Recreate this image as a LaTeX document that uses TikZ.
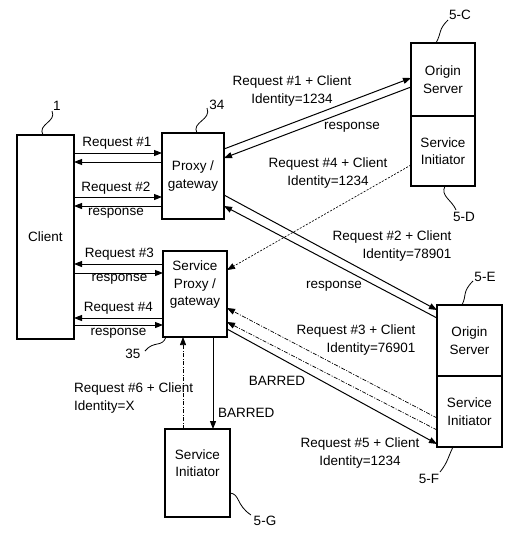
\documentclass[tikz,border=0pt]{standalone}
\usepackage{fontspec}
\setmainfont{Liberation Sans}
\usetikzlibrary{arrows.meta}
\newcommand\figfont{\fontsize{13.5}{17.5}\selectfont}
\begin{document}
\begin{tikzpicture}[x=1pt,y=-1pt,
  every node/.style={font=\figfont},
  box/.style={draw, line width=1.2pt, inner sep=0pt, outer sep=0pt, align=center},
  txt/.style={inner sep=0pt, align=center},
  arr/.style={line width=1pt, -{Triangle[length=8pt,width=6pt]}},
  dasharr/.style={line width=0.7pt, dash pattern=on 4pt off 1.5pt on 1pt off 1.5pt, -{Triangle[length=8pt,width=6pt]}},
  dotarr/.style={line width=0.65pt, dash pattern=on 2pt off 1.5pt, -{Triangle[length=8pt,width=6pt]}},
  leader/.style={line width=0.8pt}]
\useasboundingbox (0,0) rectangle (511,536);

% boxes
\node[box, minimum width=57pt, minimum height=204pt] (client) at (45.5,237) {Client};
\node[box, minimum width=62pt, minimum height=86pt] (proxy) at (193,176) {Proxy /\\gateway};
\node[box, minimum width=64pt, minimum height=86pt] (sproxy) at (195,294) {};
\node[txt] (sptext) at (195,285) {Service\\Proxy /\\gateway};
\node[box, minimum width=64pt, minimum height=73pt] (os1) at (443,79.5) {Origin\\Server};
\node[box, minimum width=64pt, minimum height=70pt] (si1) at (443,151) {Service\\Initiator};
\node[box, minimum width=65pt, minimum height=71pt] (os2) at (469.5,340.5) {Origin\\Server};
\node[box, minimum width=65pt, minimum height=71pt] (si2) at (469.5,411.5) {Service\\Initiator};
\node[box, minimum width=65pt, minimum height=88pt] (sig) at (197.5,473) {};
\node[txt] (sigtext) at (197.5,463) {Service\\Initiator};

% reference numerals
\node[txt] (n1) at (57,106) {1};
\node[txt] (n34) at (217,105) {34};
\node[txt] (n35) at (133,354) {35};
\node[txt] (n5c) at (460,15) {5-C};
\node[txt] (n5d) at (464,217) {5-D};
\node[txt] (n5e) at (485,277) {5-E};
\node[txt] (n5f) at (429,479) {5-F};
\node[txt] (n5g) at (265,521) {5-G};

\draw[leader] (client.north -| 43,0) .. controls (37,124) and (57,122) .. (52,111);
\draw[leader] (proxy.north -| 197,0) .. controls (191,122) and (212,120) .. (207,108);
\draw[leader] (sproxy.south -| 166,0) .. controls (162,348) and (154,340) .. (145,351);
\draw[leader] (os1.north -| 436,0) .. controls (442,32) and (438,30) .. (448,20);
\draw[leader] (si1.south -| 445,0) .. controls (440,196) and (452,200) .. (456,210);
\draw[leader] (os2.north -| 462,0) .. controls (467,295) and (462,292) .. (473,281);
\draw[leader] (si2.south -| 453,0) .. controls (448,457) and (448,462) .. (440,472);
\draw[leader] (sig.east |- 0,493) .. controls (240,494) and (236,505) .. (251,515);

% client <-> proxy
\draw[arr] (client.east |- 0,153) -- (proxy.west |- 0,153);
\draw[arr] (proxy.west |- 0,162) -- (client.east |- 0,162);
\draw[arr] (client.east |- 0,197) -- (proxy.west |- 0,197);
\draw[arr] (proxy.west |- 0,206) -- (client.east |- 0,206);
\node[txt] (lr1) at (117,143) {Request \#1};
\node[txt] (lr2) at (116,188) {Request \#2};
\node[txt] (lrs2) at (116,213) {response};

% client <-> service proxy
\draw[arr] (sproxy.west |- 0,264) -- (client.east |- 0,264);
\draw[arr] (client.east |- 0,273) -- (sproxy.west |- 0,273);
\draw[arr] (sproxy.west |- 0,318) -- (client.east |- 0,318);
\draw[arr] (client.east |- 0,325) -- (sproxy.west |- 0,325);
\node[txt] (lr3) at (119.5,254) {Request \#3};
\node[txt] (lrs3) at (119.5,279) {response};
\node[txt] (lr4) at (118.5,308) {Request \#4};
\node[txt] (lrs4) at (118.5,333) {response};

% proxy <-> origin 5-C
\draw[arr] (proxy.east |- 0,149) -- (os1.west |- 0,78);
\draw[arr] (os1.west |- 0,87) -- (proxy.east |- 0,158);
\node[txt] (l1c) at (292,91) {Request \#1 + Client\\Identity=1234};
\node[txt] (l1r) at (352,127) {response};

% 5-D -> service proxy
\draw[dotarr] (si1.west |- 0,165) -- (sproxy.east |- 0,270);
\node[txt] (l4c) at (328,173) {Request \#4 + Client\\Identity=1234};

% proxy <-> origin 5-E
\draw[arr] (proxy.east |- 0,195) -- (os2.west |- 0,310);
\draw[arr] (os2.west |- 0,318) -- (proxy.east |- 0,206);
\node[txt, align=right] (l2c) at (392,246) {Request \#2 + Client\\Identity=78901};
\node[txt] (l2r) at (334,286) {response};

% 5-F <-> service proxy
\draw[dasharr] (si2.west |- 0,418) -- (sproxy.east |- 0,308);
\draw[dasharr] (si2.west |- 0,430) -- (sproxy.east |- 0,322);
\draw[arr] (sproxy.east |- 0,329) -- (si2.west |- 0,444);
\node[txt, align=right] (l3c) at (356,340) {Request \#3 + Client\\Identity=76901};
\node[txt] (lb1) at (277,381) {BARRED};
\node[txt] (l5c) at (360,453) {Request \#5 + Client\\Identity=1234};

% service proxy <-> 5-G
\draw[dasharr] (sig.north -| 183,0) -- (sproxy.south -| 183,0);
\draw[arr] (sproxy.south -| 213,0) -- (sig.north -| 213,0);
\node[txt, align=left, anchor=west] (l6c) at (74,398) {Request \#6 + Client\\Identity=X};
\node[txt, anchor=west] (lb2) at (218,413) {BARRED};
\end{tikzpicture}
\end{document}
